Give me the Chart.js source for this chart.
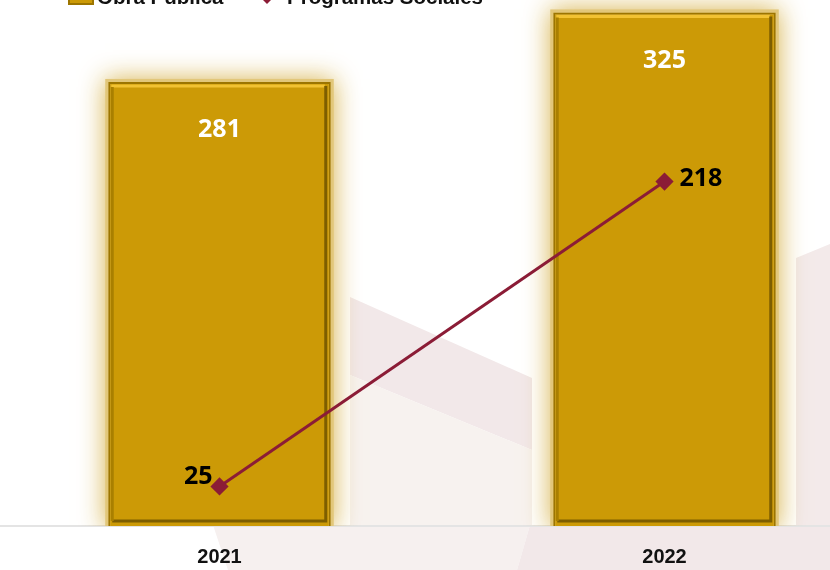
<!DOCTYPE html>
<html>
<head>
<meta charset="utf-8">
<script src="https://cdn.jsdelivr.net/npm/chart.js@4/dist/chart.umd.min.js"></script>
<style>
  html, body { margin: 0; padding: 0; background: #fff; }
  body { width: 830px; height: 570px; overflow: hidden; position: relative; }
  .bg { position: absolute; left: 0; top: 0; width: 830px; height: 570px; }
  #wrap { position: absolute; left: -13px; top: -20px; width: 910px; height: 608px; }
</style>
</head>
<body>
<div class="bg" style="background:#f2e8e9;clip-path:polygon(350px 297px,532px 378px,532px 450px,350px 375px);"></div>
<div class="bg" style="background:#f7f2ef;clip-path:polygon(350px 375px,532px 450px,532px 525px,350px 525px);"></div>
<div class="bg" style="background:#f6f0ef;clip-path:polygon(213px 525px,530px 525px,517px 570px,228px 570px);"></div>
<div class="bg" style="background:#f2e8e9;clip-path:polygon(530px 525px,830px 525px,830px 570px,517px 570px);"></div>
<div class="bg" style="background:#f3eaea;clip-path:polygon(796px 258px,830px 244px,830px 525px,796px 525px);"></div>
<div id="wrap"><canvas id="myChart"></canvas></div>
<script>
const years = ["2021", "2022"];
const obraPublica = [281, 325];
const programasSociales = [25, 218];
const seriesNames = ["Obra Pública", "Programas Sociales"];

const gold = "#cc9a06";
const maroon = "#8b1c36";

const barGlow = {
  id: "barGlow",
  beforeDatasetDraw(chart, args) {
    if (args.index !== 0) return;
    const ctx = chart.ctx;
    args.meta.data.forEach((bar) => {
      const l = bar.x - bar.width / 2;
      ctx.save();
      ctx.beginPath();
      ctx.rect(l - 40, 0, bar.width + 80, bar.base);
      ctx.clip();
      ctx.shadowColor = "rgba(214, 176, 70, 0.95)";
      ctx.shadowBlur = 24;
      ctx.fillStyle = "#e2c77a";
      ctx.fillRect(l - 3, bar.y - 3, bar.width + 6, bar.base - bar.y + 6);
      ctx.restore();
    });
  },
  afterDatasetDraw(chart, args) {
    if (args.index !== 0) return;
    const ctx = chart.ctx;
    // bevel edges
    args.meta.data.forEach((bar) => {
      const l = bar.x - bar.width / 2, r = bar.x + bar.width / 2;
      const t = bar.y, b = bar.base;
      ctx.save();
      ctx.lineWidth = 3;
      ctx.strokeStyle = "#f2c232";
      ctx.beginPath();
      ctx.moveTo(l + 3, t + 4);
      ctx.lineTo(r - 6, t + 4);
      ctx.stroke();
      ctx.strokeStyle = "#7d5e00";
      ctx.beginPath();
      ctx.moveTo(r - 5, t + 4);
      ctx.lineTo(r - 5, b - 5);
      ctx.lineTo(l + 4, b - 5);
      ctx.stroke();
      ctx.strokeStyle = "#a97f00";
      ctx.beginPath();
      ctx.moveTo(l + 4, t + 5);
      ctx.lineTo(l + 4, b - 5);
      ctx.stroke();
      ctx.restore();
    });
  }
};

const valueLabels = {
  id: "valueLabels",
  afterDatasetsDraw(chart) {
    const ctx = chart.ctx;
    ctx.save();
    ctx.font = "bold 25px 'Open Sans', sans-serif";
    ctx.textBaseline = "middle";
    chart.getDatasetMeta(0).data.forEach((bar, i) => {
      ctx.fillStyle = "#ffffff";
      ctx.textAlign = "center";
      ctx.fillText(obraPublica[i], bar.x, bar.y + 48);
    });
    chart.getDatasetMeta(1).data.forEach((pt, i) => {
      ctx.fillStyle = "#000000";
      if (i === 0) {
        ctx.textAlign = "right";
        ctx.fillText(programasSociales[i], pt.x - 7, pt.y - 10);
      } else {
        ctx.textAlign = "left";
        ctx.fillText(programasSociales[i], pt.x + 15, pt.y - 3);
      }
    });
    ctx.restore();
  }
};

// legend sits partly above the visible top edge, as in the original
const topLegend = {
  id: "topLegend",
  afterDraw(chart) {
    const ctx = chart.ctx;
    ctx.save();
    ctx.font = "bold 20.5px 'Liberation Sans', Arial, sans-serif";
    ctx.textBaseline = "alphabetic";
    ctx.textAlign = "left";
    ctx.fillStyle = gold;
    ctx.strokeStyle = "#9c7500";
    ctx.lineWidth = 2;
    ctx.fillRect(82, 8, 24, 16);
    ctx.strokeRect(82, 8, 24, 16);
    ctx.fillStyle = "#111";
    ctx.fillText(seriesNames[0], 110, 24);
    ctx.strokeStyle = maroon;
    ctx.lineWidth = 3;
    ctx.beginPath();
    ctx.moveTo(268, 17);
    ctx.lineTo(293, 17);
    ctx.stroke();
    ctx.fillStyle = maroon;
    ctx.beginPath();
    ctx.moveTo(280, 10);
    ctx.lineTo(287, 17);
    ctx.lineTo(280, 24);
    ctx.lineTo(273, 17);
    ctx.closePath();
    ctx.fill();
    ctx.fillStyle = "#111";
    ctx.fillText(seriesNames[1], 300, 24);
    ctx.restore();
  }
};

new Chart(document.getElementById("myChart"), {
  data: {
    labels: years,
    datasets: [
      {
        type: "bar",
        label: seriesNames[0],
        data: obraPublica,
        backgroundColor: gold,
        borderColor: "#9c7500",
        borderWidth: 2,
        barPercentage: 0.5,
        categoryPercentage: 1,
        clip: false,
        order: 2
      },
      {
        type: "line",
        label: seriesNames[1],
        data: programasSociales,
        borderColor: maroon,
        backgroundColor: maroon,
        borderWidth: 3,
        pointStyle: "rectRot",
        pointRadius: 7,
        pointHoverRadius: 7,
        order: 1
      }
    ]
  },
  options: {
    responsive: true,
    maintainAspectRatio: false,
    animation: false,
    layout: { padding: { top: 34 } },
    plugins: {
      tooltip: { enabled: false },
      legend: { display: false }
    },
    scales: {
      x: {
        grid: { display: false, drawTicks: false },
        border: { display: true, color: "#e4e4e4", width: 2 },
        ticks: {
          color: "#111",
          padding: 19,
          font: { family: "'Liberation Sans', Arial, sans-serif", size: 20, weight: "bold" }
        }
      },
      y: {
        display: false,
        min: 0,
        max: 324
      }
    }
  },
  plugins: [barGlow, valueLabels, topLegend]
});
</script>
</body>
</html>
